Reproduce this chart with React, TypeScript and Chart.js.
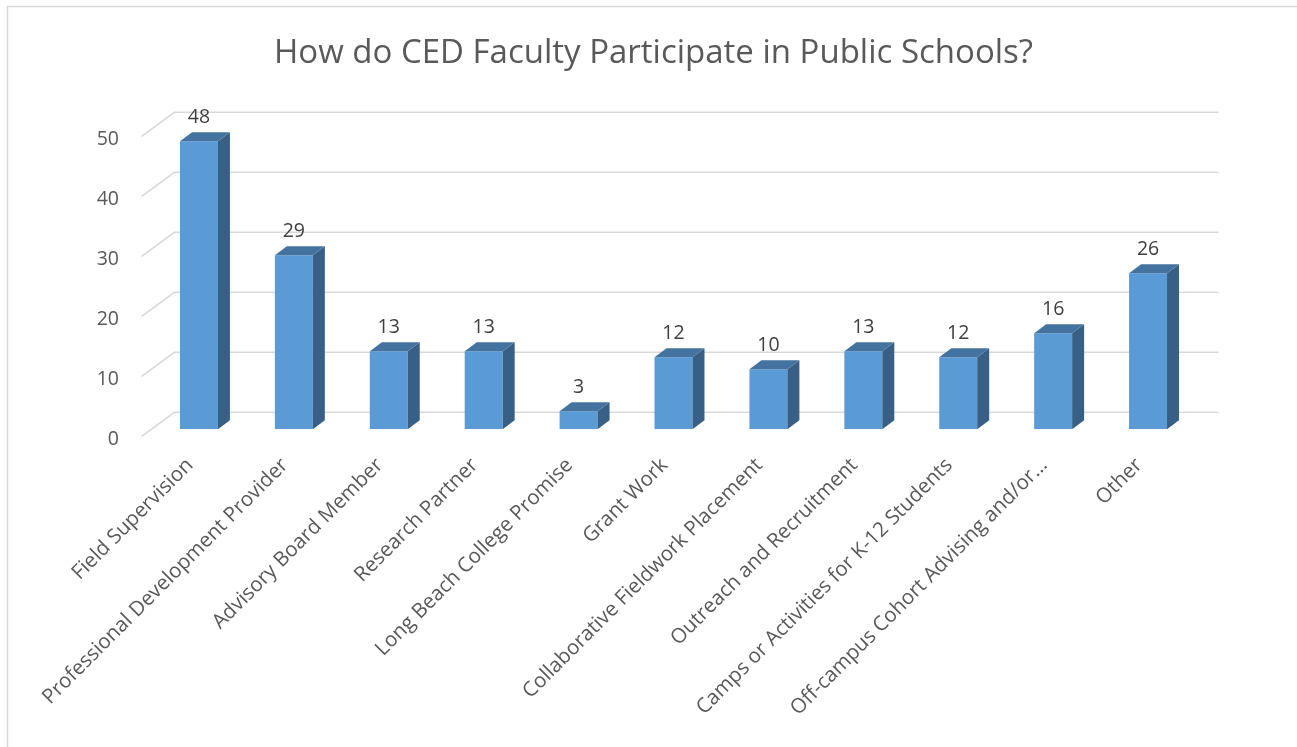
import React, { useEffect, useRef } from "react";
import { Chart, registerables } from "chart.js";

Chart.register(...registerables);

const categories: string[] = [
  "Field Supervision",
  "Professional Development Provider",
  "Advisory Board Member",
  "Research Partner",
  "Long Beach College Promise",
  "Grant Work",
  "Collaborative Fieldwork Placement",
  "Outreach and Recruitment",
  "Camps or Activities for K-12 Students",
  "Off-campus Cohort Advising and/or…",
  "Other",
];
const counts: number[] = [48, 29, 13, 13, 3, 12, 10, 13, 12, 16, 26];
const yTicks: number[] = [0, 10, 20, 30, 40, 50];
const titleText = "How do CED Faculty Participate in Public Schools?";

const W = 1297;
const H = 747;
const FONT = "'Open Sans', 'Noto Sans', sans-serif";
const FRONT = "#5B9BD5";
const TOP = "#44739F";
const SIDE = "#386086";
const GRID = "#D9D9D9";

const threeD = {
  id: "threeD",
  beforeDatasetsDraw(chart: any) {
    const ctx = chart.ctx;
    const y = chart.scales.y;
    const area = chart.chartArea;
    ctx.save();
    ctx.strokeStyle = GRID;
    ctx.lineWidth = 1.6;
    for (const v of yTicks) {
      const py = y.getPixelForValue(v);
      ctx.beginPath();
      ctx.moveTo(area.left - 10, py + 7);
      ctx.lineTo(area.left + 23, py - 17);
      ctx.lineTo(area.right + 23, py - 17);
      ctx.stroke();
    }
    // y tick labels
    ctx.fillStyle = "#595959";
    ctx.font = `19.5px ${FONT}`;
    ctx.textAlign = "right";
    ctx.textBaseline = "middle";
    for (const v of yTicks) {
      const py = y.getPixelForValue(v);
      ctx.fillText(String(v), 119, py + 10);
    }
    // border
    ctx.strokeStyle = GRID;
    ctx.lineWidth = 1.5;
    ctx.beginPath();
    ctx.moveTo(7.5, H);
    ctx.lineTo(7.5, 6.5);
    ctx.lineTo(W, 6.5);
    ctx.stroke();
    ctx.restore();
  },
  afterDatasetsDraw(chart: any) {
    const ctx = chart.ctx;
    const meta = chart.getDatasetMeta(0);
    const dx = 12;
    const dy = 9;
    ctx.save();
    meta.data.forEach((bar: any, i: number) => {
      const { x, y, base, width } = bar.getProps(["x", "y", "base", "width"], true);
      const x1 = x - width / 2;
      const x2 = x + width / 2;
      ctx.fillStyle = SIDE;
      ctx.beginPath();
      ctx.moveTo(x2, y);
      ctx.lineTo(x2 + dx, y - dy);
      ctx.lineTo(x2 + dx, base - dy);
      ctx.lineTo(x2, base);
      ctx.closePath();
      ctx.fill();
      ctx.fillStyle = TOP;
      ctx.beginPath();
      ctx.moveTo(x1, y);
      ctx.lineTo(x2, y);
      ctx.lineTo(x2 + dx, y - dy);
      ctx.lineTo(x1 + dx, y - dy);
      ctx.closePath();
      ctx.fill();
      ctx.fillStyle = "#404040";
      ctx.font = `19.5px ${FONT}`;
      ctx.textAlign = "center";
      ctx.textBaseline = "middle";
      ctx.fillText(String(counts[i]), x, y - 24);
    });
    ctx.restore();
  },
};

export default function App() {
  const ref = useRef<HTMLCanvasElement | null>(null);
  useEffect(() => {
    if (!ref.current) return;
    const chart = new Chart(ref.current, {
      type: "bar",
      data: {
        labels: categories,
        datasets: [
          {
            data: counts,
            backgroundColor: FRONT,
            borderWidth: 0,
            categoryPercentage: 1,
            barPercentage: 0.4,
          },
        ],
      },
      options: {
        responsive: false,
        animation: false,
        layout: { padding: { left: 111.5, right: 101.5, top: 0, bottom: 0 } },
        plugins: {
          legend: { display: false },
          tooltip: { enabled: false },
          title: {
            display: true,
            text: titleText,
            color: "#595959",
            font: { family: FONT, size: 33, weight: "normal", lineHeight: 1.2 },
            padding: { top: 34, bottom: 55.7 },
          },
        },
        scales: {
          x: {
            grid: { display: false },
            border: { display: false },
            ticks: {
              color: "#595959",
              font: { family: FONT, size: 20.5 },
              minRotation: 45,
              maxRotation: 45,
              autoSkip: false,
              padding: 16,
              labelOffset: -9,
            },
            afterFit: (s: any) => {
              s.height = H - 429.3;
            },
          },
          y: {
            display: true,
            min: 0,
            max: 50,
            grid: { display: false },
            border: { display: false },
            ticks: { stepSize: 10, display: false },
            afterFit: (s: any) => {
              s.width = 40;
            },
          },
        },
      },
      plugins: [threeD],
    });
    return () => chart.destroy();
  }, []);
  return (
    <canvas
      ref={ref}
      width={W}
      height={H}
      style={{ position: "fixed", left: 0, top: 0, width: W, height: H, display: "block", background: "#fff" }}
    />
  );
}
